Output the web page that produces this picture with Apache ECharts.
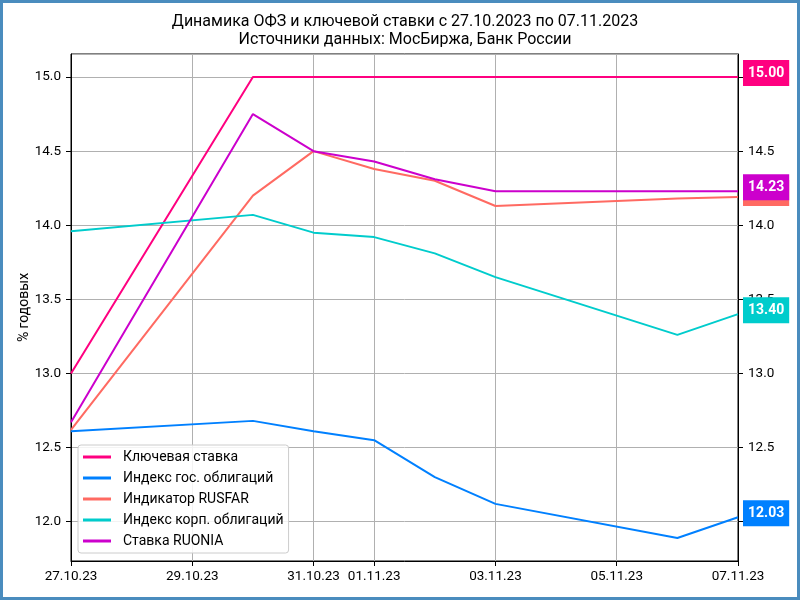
<!DOCTYPE html>
<html>
<head>
<meta charset="utf-8">
<script src="https://cdn.jsdelivr.net/npm/echarts@6/dist/echarts.min.js"></script>
<style>
  html, body { margin: 0; padding: 0; background: #fff; }
  #wrap { position: relative; width: 800px; height: 600px; }
  #chart { position: absolute; left: 0; top: 0; width: 800px; height: 600px; }
  #frame { position: absolute; left: 0; top: 0; width: 800px; height: 600px; box-sizing: border-box; border: 3px solid #4a8cbe; pointer-events: none; }
</style>
</head>
<body>
<div id="wrap"><div id="chart"></div><div id="frame"></div></div>
<script>
// Categories: every calendar day from 27.10.23 to 07.11.23 (null = no data that day)
const dates = ['27.10.23','28.10.23','29.10.23','30.10.23','31.10.23','01.11.23','02.11.23','03.11.23','04.11.23','05.11.23','06.11.23','07.11.23'];
const tickLabels = ['27.10.23','29.10.23','31.10.23','01.11.23','03.11.23','05.11.23','07.11.23'];

const keyRate   = [13.00, null, null, 15.00, 15.00, 15.00, 15.00, 15.00, null, null, 15.00, 15.00];
const govIndex  = [12.61, null, null, 12.68, 12.61, 12.55, 12.30, 12.12, null, null, 11.89, 12.03];
const rusfar    = [12.62, null, null, 14.20, 14.50, 14.38, 14.30, 14.13, null, null, 14.18, 14.19];
const corpIndex = [13.96, null, null, 14.07, 13.95, 13.92, 13.81, 13.65, null, null, 13.26, 13.40];
const ruonia    = [12.67, null, null, 14.75, 14.50, 14.43, 14.31, 14.23, null, null, 14.23, 14.23];

const seriesNames = ['Ключевая ставка','Индекс гос. облигаций','Индикатор RUSFAR','Индекс корп. облигаций','Ставка RUONIA'];
const seriesData = [keyRate, govIndex, rusfar, corpIndex, ruonia];
const colors = ['#ff0080','#0080ff','#ff6a62','#00cccc','#cc00cc'];

const titleLines = ['Динамика ОФЗ и ключевой ставки с 27.10.2023 по 07.11.2023', 'Источники данных: МосБиржа, Банк России'];

const allVals = seriesData.flat().filter(v => v !== null);
const dMin = Math.min(...allVals), dMax = Math.max(...allVals);
const pad = (dMax - dMin) * 0.05;
const yMin = dMin - pad, yMax = dMax + pad;

const FONT = 'Roboto';
const isTick = (i, v) => tickLabels.includes(v);

const yAxisBase = {
  type: 'value', min: yMin, max: yMax, splitNumber: 7, minInterval: 0.5, maxInterval: 0.5,
  axisLine: { show: true, lineStyle: { color: '#000', width: 1 } },
  axisTick: { show: true, length: 5, lineStyle: { color: '#000' } },
  axisLabel: { color: '#000', fontFamily: FONT, fontSize: 13.5, margin: 10, showMinLabel: false, showMaxLabel: false,
               formatter: v => v.toFixed(1) }
};

const chart = echarts.init(document.getElementById('chart'));
chart.setOption({
  animation: false,
  backgroundColor: '#fff',
  color: colors,
  graphic: [{
    type: 'text', x: 405, y: 13, z: 10,
    style: {
      text: titleLines.join('\n'), align: 'center', verticalAlign: 'top',
      fontFamily: FONT, fontSize: 16, lineHeight: 18, fill: '#000'
    }
  }],
  grid: { left: 71, right: 62, top: 54, bottom: 39, show: true, borderColor: '#000', borderWidth: 1, containLabel: false },
  legend: {
    orient: 'vertical', left: 78, top: 445, padding: [5, 5, 5, 5], itemGap: 7,
    icon: 'rect', itemWidth: 28, itemHeight: 3,
    backgroundColor: 'rgba(255,255,255,0.85)', borderColor: '#cccccc', borderWidth: 1, borderRadius: 3,
    textStyle: { fontFamily: FONT, fontSize: 14, color: '#000', padding: [0, 0, 0, 7] },
    data: seriesNames
  },
  xAxis: {
    type: 'category', data: dates, boundaryGap: false,
    axisLine: { show: true, lineStyle: { color: '#000', width: 1 } },
    axisTick: { show: true, length: 5, interval: isTick, lineStyle: { color: '#000' } },
    axisLabel: { color: '#000', fontFamily: FONT, fontSize: 13.5, margin: 9, interval: isTick },
    splitLine: { show: true, interval: isTick, lineStyle: { color: '#b0b0b0', width: 1 } }
  },
  yAxis: [
    Object.assign({}, yAxisBase, {
      position: 'left',
      name: '% годовых', nameLocation: 'middle', nameRotate: 90, nameGap: 40, nameMoveOverlap: false,
      nameTextStyle: { fontFamily: FONT, fontSize: 14, color: '#000' },
      splitLine: { show: true, lineStyle: { color: '#b0b0b0', width: 1 } }
    }),
    Object.assign({}, yAxisBase, { position: 'right', splitLine: { show: false } })
  ],
  series: seriesNames.map((name, i) => ({
    name, type: 'line', data: seriesData[i], connectNulls: true,
    showSymbol: false, symbol: 'none',
    lineStyle: { width: 2, color: colors[i] },
    itemStyle: { color: colors[i] },
    z: 3 + i,
    endLabel: {
      show: true, distance: 5, offset: [0, -4],
      formatter: p => Number(p.value).toFixed(2),
      backgroundColor: colors[i], color: '#fff',
      fontFamily: FONT, fontSize: 14, fontWeight: 'bold', lineHeight: 14,
      padding: [6, 5, 6, 5]
    }
  }))
});
</script>
</body>
</html>
